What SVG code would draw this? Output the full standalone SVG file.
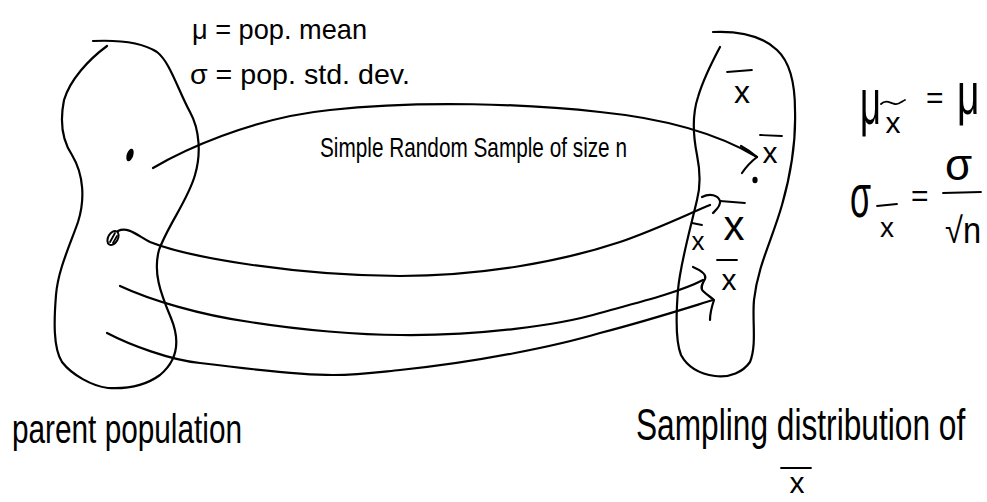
<svg xmlns="http://www.w3.org/2000/svg" width="987" height="502" viewBox="0 0 987 502">
<style>
.ink{fill:none;stroke:#000;stroke-width:2.2;stroke-linecap:round;stroke-linejoin:round}
.thin{fill:none;stroke:#000;stroke-width:1.8;stroke-linecap:round}
.t{font-family:"Liberation Sans","DejaVu Sans",sans-serif;fill:#000}
</style>
<rect width="987" height="502" fill="#fff"/>
<g id="parent-population">
<path class="ink" d="M93,41 C115,40 140,41 157,52 C170,62 178,90 190,112 C200,130 201,155 195,175 C188,200 168,225 159,250 C153,272 160,292 171,318 C180,340 178,360 160,375 C145,386 125,389 108,388 C92,386 72,375 62,362 C53,348 54,320 56,295 C58,270 70,245 78,222 C85,200 84,175 72,155 C62,140 60,120 64,100 C70,80 88,60 107,46"/>
<ellipse cx="130" cy="155" rx="3.3" ry="6.5" transform="rotate(18 130 155)" fill="#000"/>
<ellipse cx="113" cy="238" rx="4.8" ry="7.5" transform="rotate(30 113 238)" fill="none" stroke="#000" stroke-width="2"/>
<path class="thin" d="M110,242 L115,233 M113,243 L117,236"/>
<text class="t" x="12" y="443" font-size="40" textLength="230" lengthAdjust="spacingAndGlyphs">parent population</text>
</g>
<g id="population-parameters">
<text class="t" x="192" y="39" font-size="28" textLength="175" lengthAdjust="spacingAndGlyphs">μ = pop. mean</text>
<text class="t" x="190" y="84" font-size="28" textLength="220" lengthAdjust="spacingAndGlyphs">σ = pop. std. dev.</text>
</g>
<g id="sampling-distribution">
<path class="ink" d="M713,32 C735,31 760,34 777,50 C790,62 795,85 795,110 C796,140 792,170 782,205 C772,240 758,265 754,300 C752,320 757,345 750,362 C743,372 730,378 715,376 C700,374 688,368 681,355 C675,340 676,315 678,290 C680,265 690,230 697,200 C701,185 700,170 697,155 C693,135 692,115 698,97 C703,80 712,62 720,47"/>
<ellipse cx="755" cy="180" rx="2.6" ry="3.2" fill="#000"/>
<g id="xbar-labels">
<path class="thin" d="M727,72 L752,70 M760,135 L782,136 M720,201 L745,203 M692,223 L702,225 M717,260 L737,260 M781,468 L811,468"/>
<text class="t" x="742" y="103" font-size="32" text-anchor="middle">x</text>
<text class="t" x="770" y="163" font-size="30" text-anchor="middle">x</text>
<text class="t" x="734" y="240" font-size="42" text-anchor="middle">x</text>
<text class="t" x="698" y="250" font-size="26" text-anchor="middle">x</text>
<text class="t" x="729" y="290" font-size="30" text-anchor="middle">x</text>
</g>
<text class="t" font-size="44" transform="translate(636,440) scale(0.72,1)">Sampling distribution of</text>
<text class="t" x="797" y="493" font-size="30" text-anchor="middle">x</text>
</g>
<g id="sampling-formulas">
<text class="t" font-size="52" transform="translate(860,124) scale(0.7,1.25)">μ</text>
<path class="thin" d="M881,104 C886,99 890,103 895,104 C899,105 902,101 905,100"/>
<text class="t" x="893" y="133" font-size="30" text-anchor="middle">x</text>
<text class="t" x="926" y="108" font-size="30">=</text>
<text class="t" font-size="52" transform="translate(957,114) scale(0.75,1.15)">μ</text>
<text class="t" font-size="62" transform="translate(850,217) scale(0.55,1)">σ</text>
<path class="thin" d="M877,206 L897,204"/>
<text class="t" x="887" y="237" font-size="28" text-anchor="middle">x</text>
<text class="t" x="911" y="206" font-size="30">=</text>
<text class="t" x="945" y="180" font-size="44">σ</text>
<path class="thin" d="M943,193 L981,192"/>
<text class="t" x="945" y="243" font-size="36" textLength="36" lengthAdjust="spacingAndGlyphs">√n</text>
</g>
<g id="connectors">
<path class="ink" d="M153,168 C180,152 250,118 330,110 C420,100 530,104 600,112 C660,118 715,132 757,157"/>
<path class="ink" d="M741,146 Q750,151 757,157 Q748,164 742,173"/>
<path class="ink" d="M118,231 C128,226 138,236 150,242 C190,258 300,276 400,276 C480,276 560,262 620,242 C660,228 690,213 710,205"/>
<path class="ink" d="M702,197 C710,193 718,195 720,201 C721,206 716,210 713,213"/>
<path class="ink" d="M120,286 C150,300 200,315 250,322 C300,330 360,335 400,335 C480,336 560,325 600,313 C640,302 680,292 703,280"/>
<path class="ink" d="M107,333 C130,345 170,360 200,363 C240,368 300,375 333,375 C360,375 380,372 400,370 C480,362 560,345 600,333 C650,320 690,307 713,300"/>
<path class="ink" d="M693,267 C700,270 707,274 705,279 C702,284 700,288 703,291 C707,295 712,298 714,300 C712,306 710,313 710,320"/>
<text class="t" x="320" y="157" font-size="28" textLength="307" lengthAdjust="spacingAndGlyphs">Simple Random Sample of size n</text>
</g>
</svg>
